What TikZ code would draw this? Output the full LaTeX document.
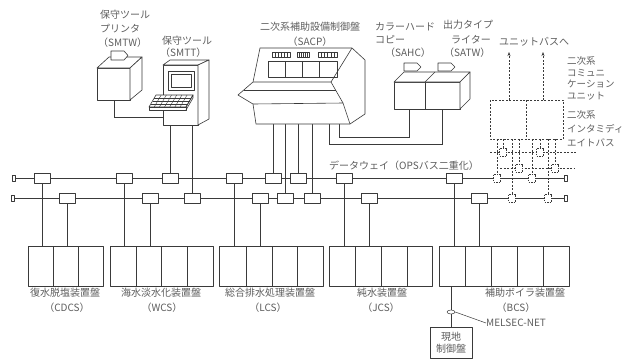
\documentclass[tikz,border=0pt]{standalone}
\usepackage{fontspec}
\newfontfamily\jp{Noto Sans CJK JP}
\usetikzlibrary{arrows.meta,backgrounds,shapes.geometric,calc}
\definecolor{ink}{HTML}{3A3A3A}
\definecolor{txt}{HTML}{5E5E5E}
\begin{document}
\begin{tikzpicture}[x=1pt,y=-1pt,line join=round,
  ln/.style={draw=ink,line width=0.6pt},
  dln/.style={draw=ink,line width=0.5pt,dash pattern=on 2pt off 1.5pt},
  busbox/.style={draw=ink,line width=0.6pt,fill=white,minimum width=16pt,minimum height=10pt,inner sep=0},
  dbox/.style={draw=ink,line width=0.5pt,dash pattern=on 1.5pt off 1pt,fill=white,minimum width=7pt,minimum height=8pt,inner sep=0},
  term/.style={draw=ink,line width=0.5pt,fill=white,minimum width=3pt,minimum height=6pt,inner sep=0},
  panel/.style={draw=ink,line width=0.7pt,minimum height=40pt,inner sep=0},
  lbl/.style={text=txt,font=\jp\fontsize{10}{12}\selectfont,inner sep=0},
  slbl/.style={text=txt,font=\jp\fontsize{9.5}{11}\selectfont,inner sep=0}]
\useasboundingbox (0,0) rectangle (626,360);

% ---------------- maintenance printer (SMTW)
\draw[ln,fill=white] (97,68) rectangle (130,100);
\draw[ln,fill=white] (97,68) -- (109,57) -- (142,57) -- (130,68) -- cycle;
\draw[ln,fill=white] (130,68) -- (142,57) -- (142,90) -- (130,100) -- cycle;
\draw[ln,fill=white] (111,51) -- (124,51) -- (128,55.5) -- (124,60) -- (111,60) -- cycle;
\coordinate (smtw-out) at (114,100);
\node[lbl,anchor=west] (smtw1) at (100,15) {保守ツール};
\node[lbl,anchor=west] (smtw2) at (100,29) {プリンタ};
\node[lbl,anchor=west] (smtw3) at (98,43) {（SMTW）};

% ---------------- maintenance terminal (SMTT)
\draw[ln,fill=white] (163,65) rectangle (198,125);
\draw[ln,fill=white] (163,65) -- (170,60) -- (209,60) -- (198,65) -- cycle;
\draw[ln,fill=white] (198,65) -- (209,60) -- (209,119) -- (198,125) -- cycle;
\draw[ln] (168,71) rectangle (194,90);
\draw[ln] (171,74) rectangle (191,87);
\draw[ln,fill=white] (156,95) -- (193,95) -- (186,107) -- (149,107) -- cycle;
\draw[ln,fill=white] (149,107) -- (186,107) -- (186,110) -- (149,110) -- cycle;
\draw[ln] (186,107) -- (193,95) -- (193,98) -- (186,110);
\foreach \t in {0.25,0.5,0.75}
  \draw[ink,line width=0.4pt] ($(156,95)!\t!(149,107)$) -- ($(193,95)!\t!(186,107)$);
\foreach \t in {0.14,0.28,0.42,0.56,0.70,0.84}
  \draw[ink,line width=0.4pt] ($(156,95)!\t!(193,95)$) -- ($(149,107)!\t!(186,107)$);
\coordinate (smtt-in) at (163,117);
\coordinate (smtt-a) at (170,125);
\coordinate (smtt-b) at (192,125);
\node[lbl,anchor=west] (smtt1) at (162,41) {保守ツール};
\node[lbl,anchor=west] (smtt2) at (160,53) {（SMTT）};

% ---------------- secondary auxiliary control panel (SACP)
\draw[ln,fill=white] (260,48) -- (352,48) -- (365,60) -- (365,114) -- (350,124)
  -- (256,124) -- (253,104) -- (238,95) -- (253,82) -- cycle;
\draw[ln] (253,82) -- (331,82) -- (352,48);
\draw[ln] (331,82) -- (343,103) -- (350,124);
\draw[ln] (243.8,90) -- (336,90);
\draw[ln] (253,104) -- (343,103);
\draw[ln] (268,61) rectangle (337,77);
\foreach \x in {285,302,319} \draw[ln] (\x,61) -- (\x,77);
\foreach \a/\b in {272/290,297/309,318/337}{
  \draw[ink,line width=0.5pt] (\a,52.5) rectangle (\b,57);
  \foreach \k in {1,2,3,4,5} \draw[ink,line width=0.3pt] ($(\a,52.5)!\k/6!(\b,52.5)$) -- +(0,4.5);
}
\coordinate (sacp1) at (273,124);
\coordinate (sacp2) at (285,124);
\coordinate (sacp3) at (298,124);
\coordinate (sacp4) at (312,124);
\coordinate (sacp5) at (329,124);
\coordinate (sacp6) at (339,124);
\node[lbl] (sacpt1) at (310,27) {二次系補助設備制御盤};
\node[lbl] (sacpt2) at (310,42) {（SACP）};

% ---------------- hard copy (SAHC) and typewriter (SATW)
\draw[ln,fill=white] (394,82) rectangle (425,109);
\draw[ln,fill=white] (425,82) rectangle (460,109);
\draw[ln,fill=white] (394,82) -- (404,72) -- (470,72) -- (460,82) -- cycle;
\draw[ln] (425,82) -- (435,72);
\draw[ln,fill=white] (460,82) -- (470,72) -- (470,99) -- (460,109) -- cycle;
\draw[ln,fill=white] (404,63) -- (417,63) -- (421,67) -- (417,71) -- (404,71) -- cycle;
\draw[ln,fill=white] (438,63) -- (451,63) -- (455,67) -- (451,71) -- (438,71) -- cycle;
\coordinate (sahc-in) at (409,109);
\coordinate (satw-in) at (442,109);
\node[lbl,anchor=west] (sahct1) at (375,27) {カラーハード};
\node[lbl,anchor=west] (sahct2) at (375,40) {コピー};
\node[lbl,anchor=west] (sahct3) at (385,53) {（SAHC）};
\node[lbl,anchor=west] (satwt1) at (443,25) {出力タイプ};
\node[lbl,anchor=west] (satwt2) at (451,40) {ライター};
\node[lbl,anchor=west] (satwt3) at (444,53) {（SATW）};

% ---------------- communication unit (dashed)
\draw[dln] (490,100) rectangle (563,139);
\draw[dln] (526,100) -- (526,139);
\coordinate (cu-a) at (509,100);
\coordinate (cu-b) at (543,100);
\coordinate (ub-a) at (509,52);
\coordinate (ub-b) at (543,52);
\draw[dln,-{Stealth[length=4pt,width=3pt]}] (cu-a) -- (ub-a);
\draw[dln,-{Stealth[length=4pt,width=3pt]}] (cu-b) -- (ub-b);
\node[lbl,anchor=west] (ubt) at (499,42) {ユニットバスへ};
\node[slbl,anchor=west] (cut1) at (567,61) {二次系};
\node[slbl,anchor=west] (cut2) at (567,73) {コミュニ};
\node[slbl,anchor=west] (cut3) at (567,84) {ケーション};
\node[slbl,anchor=west] (cut4) at (567,96) {ユニット};
\node[slbl,anchor=west] (ibt1) at (567,115) {二次系};
\node[slbl,anchor=west] (ibt2) at (567,129) {インタミディ};
\node[slbl,anchor=west] (ibt3) at (567,143) {エイトバス};

% ---------------- data way (duplicated OPS bus)
\node[term] (ut0) at (14,178) {};
\node[term] (ut9) at (566,178) {};
\node[term] (lt0) at (13,198) {};
\node[term] (lt9) at (566,198) {};
\foreach \n/\x in {1/42,2/124,3/170,4/234,5/273,6/298,7/344,8/454}
  \node[busbox] (ub\n) at (\x,178) {};
\foreach \n/\x in {1/67,2/150,3/192,4/260,5/285,6/312,7/369,8/479}
  \node[busbox] (lb\n) at (\x,198) {};
\node[dbox] (ud1) at (497,178) {};
\node[dbox] (ud2) at (532,178) {};
\node[dbox] (ld1) at (512,198) {};
\node[dbox] (ld2) at (548,198) {};
\node[dbox] (ia1) at (503,152) {};
\node[dbox] (ia2) at (540,152) {};
\node[dbox] (ib1) at (519,168) {};
\node[dbox] (ib2) at (555,168) {};
\node[lbl,anchor=west] (dwt) at (329,166) {データウェイ（OPSバス二重化）};

% ---------------- plant control panels
\node[panel,minimum width=75pt] (cdcs) at (65.5,266) {};
\node[panel,minimum width=103pt] (wcs) at (161.5,266) {};
\node[panel,minimum width=104pt] (lcs) at (271,266) {};
\node[panel,minimum width=103pt] (jcs) at (380.5,266) {};
\node[panel,minimum width=130pt] (bcs) at (504,266) {};
\foreach \x in {53,78,136,161,187,246,272,297,355,381,407,465,491,517,543}
  \draw[ln] (\x,246) -- (\x,286);
\node[lbl] (cdcst1) at (65,293) {復水脱塩装置盤};
\node[lbl] (cdcst2) at (67,308) {（CDCS）};
\node[lbl] (wcst1) at (161,293) {海水淡水化装置盤};
\node[lbl] (wcst2) at (162,308) {（WCS）};
\node[lbl] (lcst1) at (270,293) {総合排水処理装置盤};
\node[lbl] (lcst2) at (268,308) {（LCS）};
\node[lbl] (jcst1) at (382,293) {純水装置盤};
\node[lbl] (jcst2) at (381,308) {（JCS）};
\node[lbl] (bcst1) at (525,293) {補助ボイラ装置盤};
\node[lbl] (bcst2) at (516,308) {（BCS）};

% ---------------- local control panel on MELSEC-NET
\node[draw=ink,line width=0.6pt,minimum width=42pt,minimum height=31pt,align=center,
  text=txt,font=\jp\fontsize{10}{12}\selectfont,inner sep=0] (genchi) at (451,343) {現地\\制御盤};
\node[draw=ink,line width=0.5pt,fill=white,ellipse,minimum width=8pt,minimum height=4pt,inner sep=0] (tap) at (451,312) {};
\node[lbl,anchor=west] (melt) at (486,323) {MELSEC-NET};

% ---------------- paper and connectors, behind everything above
\begin{pgfonlayer}{background}
  \fill[white] (0,0) rectangle (626,360);
  \draw[ln,line width=0.9pt] (ut0) -- (ut9);
  \draw[ln,line width=0.9pt] (lt0) -- (lt9);
  \draw[ln] (smtw-out) |- (smtt-in);
  \draw[ln] (smtt-a) -- (smtt-a |- ub3.north);
  \draw[ln] (smtt-b) -- (smtt-b |- lb3.north);
  \draw[ln] (sacp1) -- (sacp1 |- ub5.north);
  \draw[ln] (sacp2) -- (sacp2 |- lb5.north);
  \draw[ln] (sacp3) -- (sacp3 |- ub6.north);
  \draw[ln] (sacp4) -- (sacp4 |- lb6.north);
  \draw[ln] (sacp5) |- (442,144) -- (satw-in);
  \draw[ln] (sacp6) |- (409,137) -- (sahc-in);
  \foreach \u/\l/\p in {1/1/cdcs,2/2/wcs,4/4/lcs,7/7/jcs,8/8/bcs}{
    \draw[ln] (ub\u) -- (ub\u |- \p.north);
    \draw[ln] (lb\l) -- (lb\l |- \p.north);
  }
  \draw[dln] (490,152) -- (577,152);
  \draw[dln] (500,168) -- (575,168);
  \draw[dln] (497,139) -- (ud1);
  \draw[dln] (532,139) -- (ud2);
  \draw[dln] (512,139) -- (ld1);
  \draw[dln] (548,139) -- (ld2);
  \draw[dln] (503,139) -- (ia1);
  \draw[dln] (540,139) -- (ia2);
  \draw[dln] (519,139) -- (ib1);
  \draw[dln] (555,139) -- (ib2);
  \draw[ln] (genchi.north) -- (genchi.north |- bcs.south);
  \draw[ln,line width=0.5pt] (tap.east) -- (melt.west);
\end{pgfonlayer}
\end{tikzpicture}
\end{document}
